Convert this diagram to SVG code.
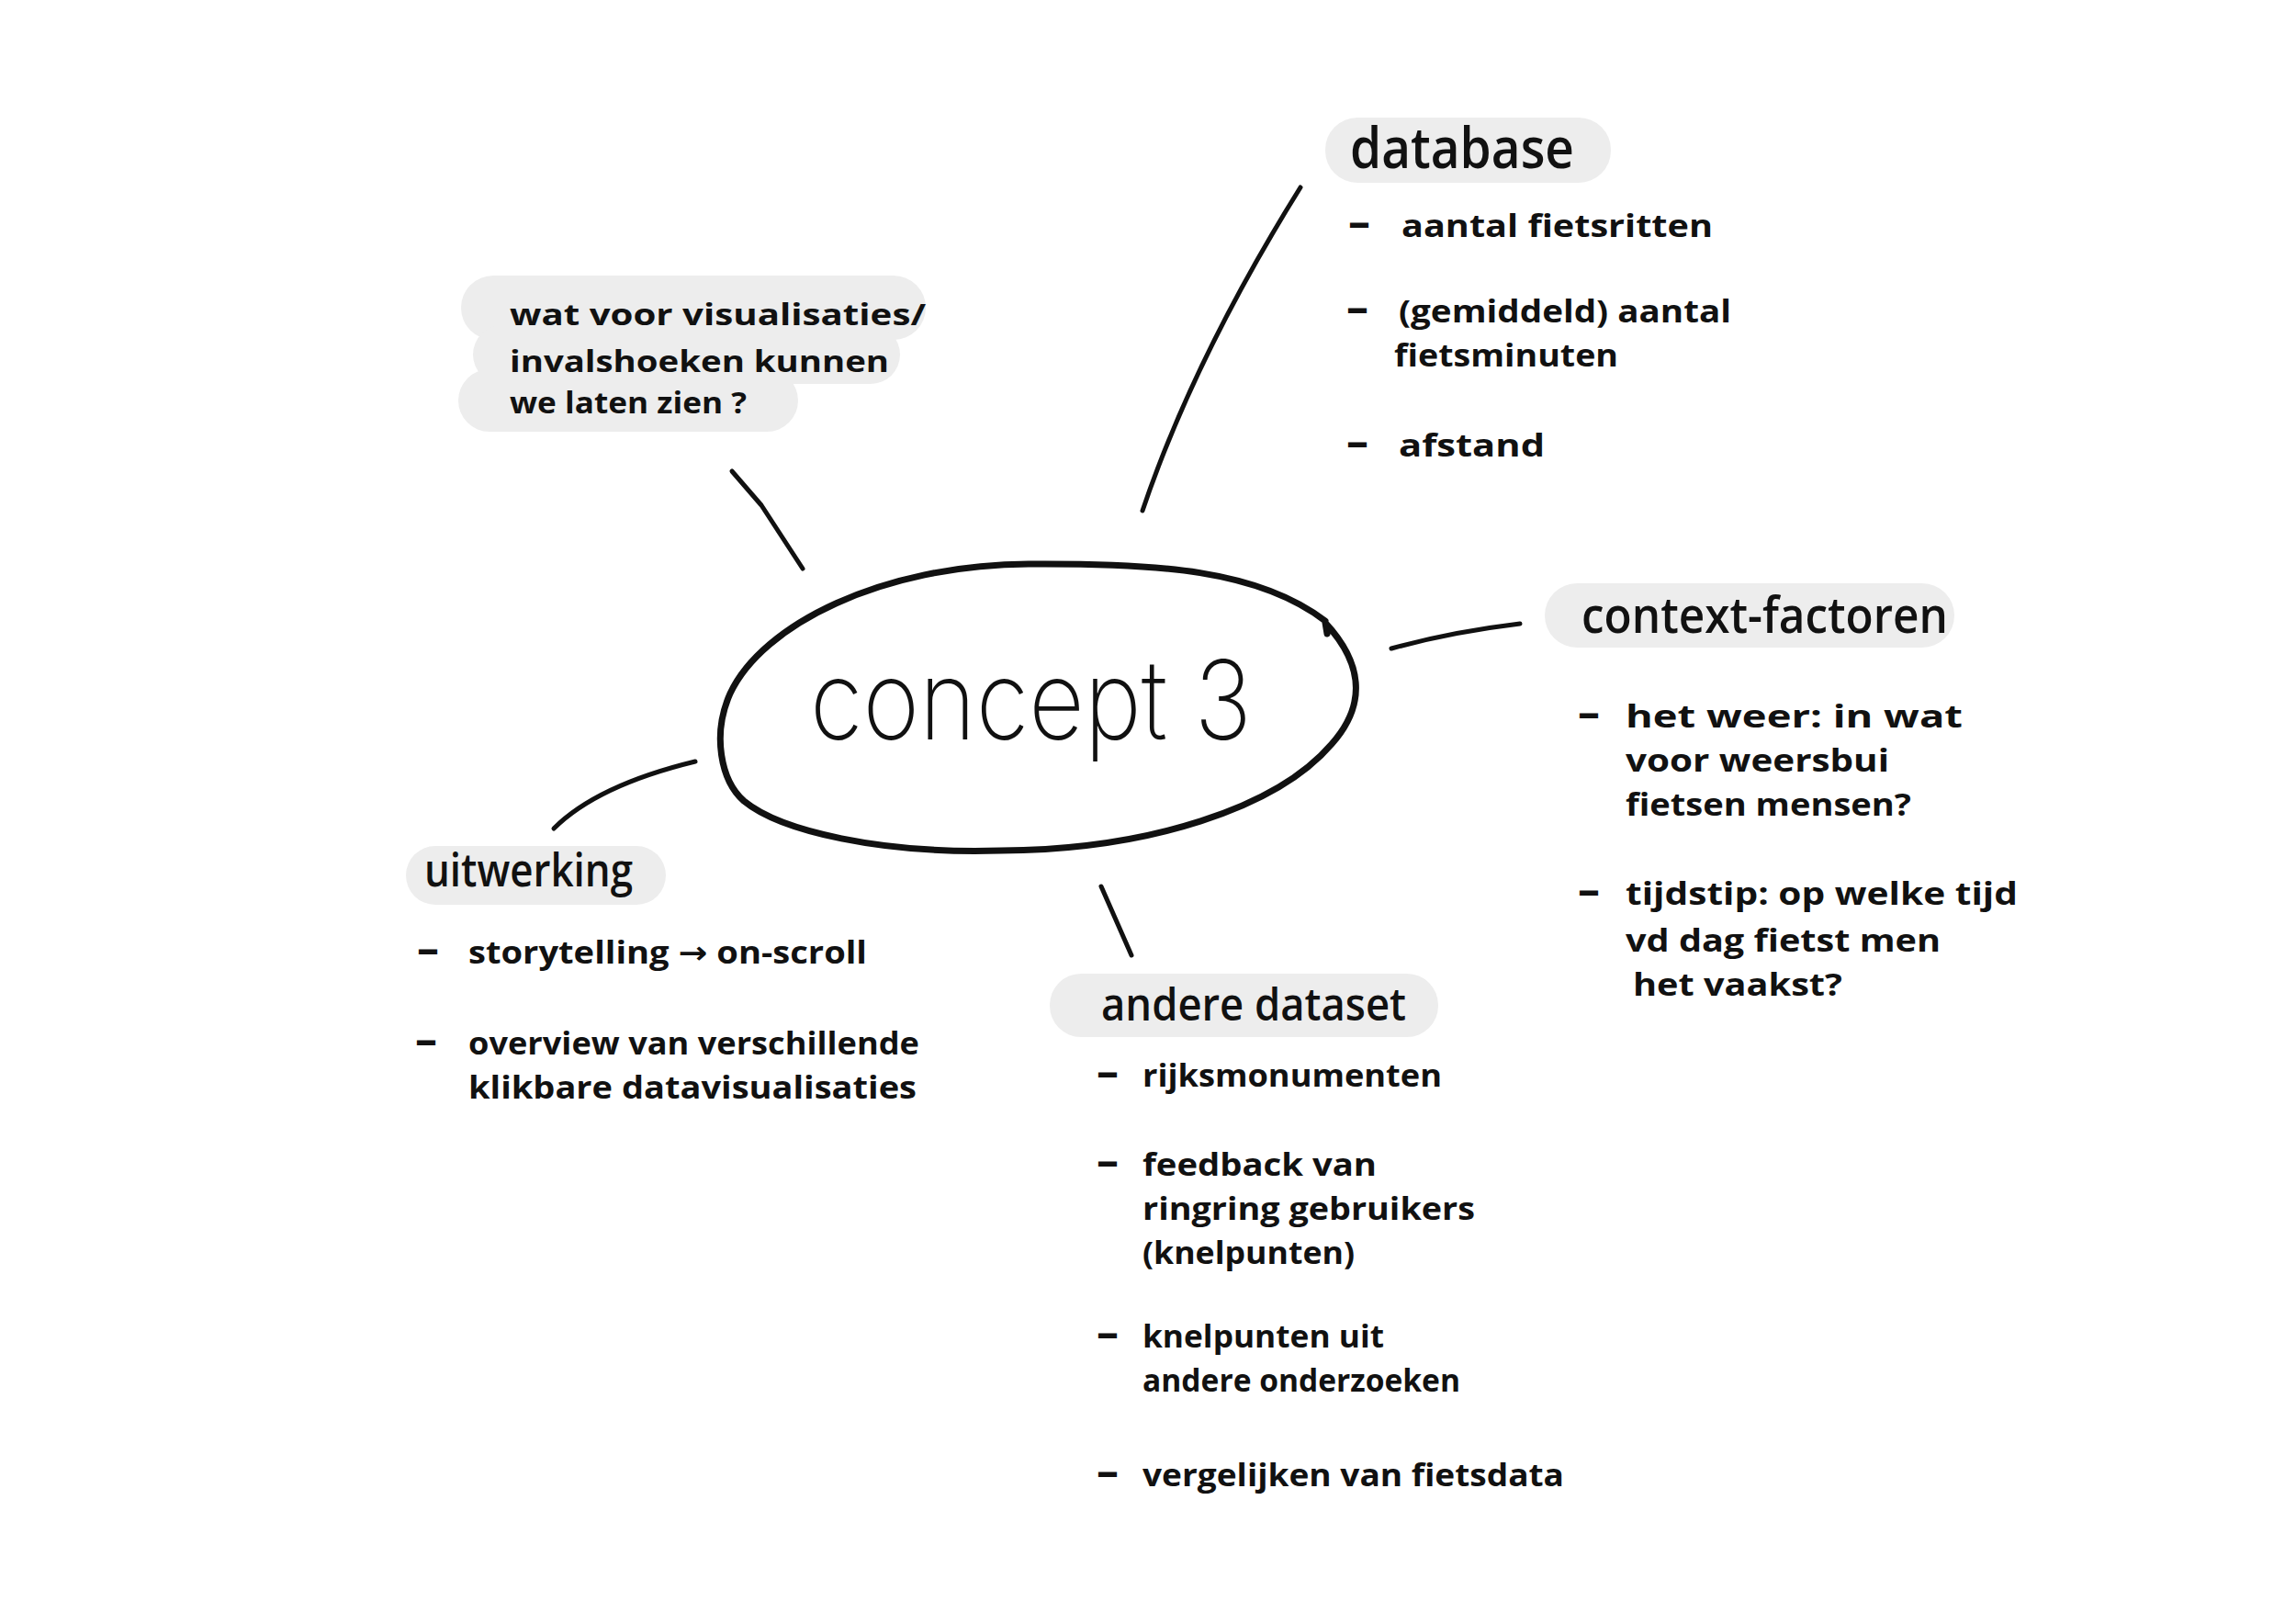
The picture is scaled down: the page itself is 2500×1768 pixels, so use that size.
<svg xmlns="http://www.w3.org/2000/svg" width="2500" height="1768" viewBox="0 0 2500 1768">
<style>
.pill{fill:#ededed}
.h{font-family:"Open Sans","Liberation Sans",sans-serif;font-weight:600;fill:#111}
.b{font-family:"Open Sans","Liberation Sans",sans-serif;font-weight:700;font-size:34px;fill:#111}
.q{font-family:"Open Sans","Liberation Sans",sans-serif;font-weight:700;font-size:32px;fill:#111}
.d{font-size:48px}
.ar{font-family:"DejaVu Sans",sans-serif;font-size:34px}
.line{fill:none;stroke:#111;stroke-width:5;stroke-linecap:round;stroke-linejoin:round}
.oval{fill:none;stroke:#111;stroke-width:7;stroke-linecap:round;stroke-linejoin:round}
.title{font-family:"Inter","DejaVu Sans",sans-serif;font-weight:200;font-size:120px;fill:#111}
</style>
<rect width="2500" height="1768" fill="#ffffff"/>
<g id="connectors">
<path class="line" d="M797 513 L829 550 L874 619"/>
<path class="line" d="M1416 204 Q1300 390 1244 556"/>
<path class="line" d="M1515 706 Q1580 688 1655 679"/>
<path class="line" d="M757 829 Q650 855 603 902"/>
<path class="line" d="M1199 965 L1232 1040"/>
</g>
<g id="concept3">
<path class="oval" d="M1443 676 C1370 620 1260 613 1120 614 C960 615 830 680 795 755 C775 800 785 850 810 872 C850 905 960 930 1090 926 C1250 925 1390 880 1450 810 C1490 765 1482 720 1443 678 L1445 690"/>
<text class="title" x="882" y="805" textLength="481" lengthAdjust="spacingAndGlyphs">concept 3</text>
</g>
<g id="vragen">
<rect class="pill" x="502" y="300" width="506" height="70" rx="35"/>
<rect class="pill" x="515" y="354" width="465" height="64" rx="32"/>
<rect class="pill" x="499" y="402" width="370" height="68" rx="34"/>
<text class="q" x="555" y="354" textLength="453" lengthAdjust="spacingAndGlyphs">wat voor visualisaties/</text>
<text class="q" x="555" y="405" textLength="413" lengthAdjust="spacingAndGlyphs">invalshoeken  kunnen</text>
<text class="q" x="555" y="450" textLength="258" lengthAdjust="spacingAndGlyphs">we laten zien ?</text>
</g>
<g id="database">
<rect class="pill" x="1443" y="128" width="311" height="71" rx="35"/>
<text class="h" x="1470" y="183" font-size="62" textLength="244" lengthAdjust="spacingAndGlyphs">database</text>
<text class="b" y="258"><tspan class="d" x="1468">–</tspan><tspan x="1526" textLength="339" lengthAdjust="spacingAndGlyphs">aantal fietsritten</tspan></text>
<text class="b" y="351"><tspan class="d" x="1466">–</tspan><tspan x="1523" textLength="362" lengthAdjust="spacingAndGlyphs">(gemiddeld) aantal</tspan></text>
<text class="b" x="1518" y="399" textLength="244" lengthAdjust="spacingAndGlyphs">fietsminuten</text>
<text class="b" y="497"><tspan class="d" x="1466">–</tspan><tspan x="1523" textLength="159" lengthAdjust="spacingAndGlyphs">afstand</tspan></text>
</g>
<g id="context-factoren">
<rect class="pill" x="1682" y="635" width="446" height="70" rx="35"/>
<text class="h" x="1722" y="689" font-size="54" textLength="399" lengthAdjust="spacingAndGlyphs">context-factoren</text>
<text class="b" y="792"><tspan class="d" x="1718">–</tspan><tspan x="1770" textLength="367" lengthAdjust="spacingAndGlyphs">het weer: in wat</tspan></text>
<text class="b" x="1770" y="840" textLength="287" lengthAdjust="spacingAndGlyphs">voor weersbui</text>
<text class="b" x="1770" y="888" textLength="311" lengthAdjust="spacingAndGlyphs">fietsen mensen?</text>
<text class="b" y="985"><tspan class="d" x="1718">–</tspan><tspan x="1770" textLength="427" lengthAdjust="spacingAndGlyphs">tijdstip: op welke tijd</tspan></text>
<text class="b" x="1770" y="1036" textLength="343" lengthAdjust="spacingAndGlyphs">vd dag fietst men</text>
<text class="b" x="1778" y="1084" textLength="228" lengthAdjust="spacingAndGlyphs">het vaakst?</text>
</g>
<g id="uitwerking">
<rect class="pill" x="442" y="921" width="283" height="64" rx="32"/>
<text class="h" x="462" y="965" font-size="50" textLength="227" lengthAdjust="spacingAndGlyphs">uitwerking</text>
<text class="b" y="1049"><tspan class="d" x="454">–</tspan><tspan x="510" textLength="434" lengthAdjust="spacingAndGlyphs">storytelling <tspan class="ar">→</tspan> on-scroll</tspan></text>
<text class="b" y="1148"><tspan class="d" x="452">–</tspan><tspan x="510" textLength="491" lengthAdjust="spacingAndGlyphs">overview van verschillende</tspan></text>
<text class="b" x="510" y="1196" textLength="488" lengthAdjust="spacingAndGlyphs">klikbare datavisualisaties</text>
</g>
<g id="andere-dataset">
<rect class="pill" x="1143" y="1060" width="423" height="69" rx="34"/>
<text class="h" x="1199" y="1111" font-size="48" textLength="332" lengthAdjust="spacingAndGlyphs">andere dataset</text>
<text class="b" y="1183"><tspan class="d" x="1194">–</tspan><tspan x="1244" textLength="326" lengthAdjust="spacingAndGlyphs">rijksmonumenten</tspan></text>
<text class="b" y="1280"><tspan class="d" x="1194">–</tspan><tspan x="1244" textLength="255" lengthAdjust="spacingAndGlyphs">feedback van</tspan></text>
<text class="b" x="1244" y="1328" textLength="362" lengthAdjust="spacingAndGlyphs">ringring gebruikers</text>
<text class="b" x="1244" y="1376" textLength="231" lengthAdjust="spacingAndGlyphs">(knelpunten)</text>
<text class="b" y="1467"><tspan class="d" x="1194">–</tspan><tspan x="1244" textLength="263" lengthAdjust="spacingAndGlyphs">knelpunten uit</tspan></text>
<text class="b" x="1244" y="1515" textLength="346" lengthAdjust="spacingAndGlyphs">andere onderzoeken</text>
<text class="b" y="1618"><tspan class="d" x="1194">–</tspan><tspan x="1244" textLength="459" lengthAdjust="spacingAndGlyphs">vergelijken van fietsdata</tspan></text>
</g>
</svg>
